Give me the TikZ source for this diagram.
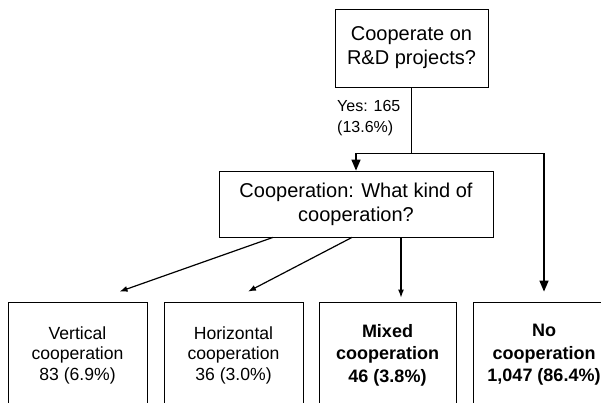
\documentclass[tikz,border=0pt]{standalone}
\usepackage{fontspec}
\setmainfont{Liberation Sans}
\usetikzlibrary{arrows.meta}

\begin{document}
\begin{tikzpicture}[x=1pt,y=-1pt,box/.style={shape=rectangle,draw=black,line width=0.8pt,align=center,inner sep=0pt},question/.style={box,font=\fontsize{20}{24}\selectfont},answer/.style={box,minimum width=139pt,minimum height=106pt,font=\fontsize{17.6}{20.5}\selectfont},answerB/.style={answer,font=\fontsize{18}{22.5}\selectfont\bfseries},flow/.style={line width=1.5pt,-{Triangle[width=9pt,length=11pt]}},split/.style={line width=1.2pt,-{Latex[width=6pt,length=8pt]}}]
\def\ty{355};
\def\dk{66};

\useasboundingbox (0,0) rectangle (601,403);

\node[question,minimum width=153pt,minimum height=78pt] (Q) at (411.5,48) {Cooperate on\\R\&D projects?};
\node[anchor=west,align=left,inner sep=0pt,font=\fontsize{16}{21}\selectfont] (yes) at (337,118) {Yes: 165\\(13.6\%)};
\node[question,minimum width=274pt,minimum height=66pt] (K) at (356,204) {Cooperation: What kind of\\cooperation?};

\node[answer] (V) at (77.5,\ty) {Vertical\\cooperation\\83 (6.9\%)};
\node[answer] (H) at (233.5,\ty) {Horizontal\\cooperation\\36 (3.0\%)};
\node[answerB,minimum width=137pt] (M) at (387.5,\ty) {Mixed\\cooperation\\46 (3.8\%)};
\node[answerB,minimum width=142pt] (N) at (544,\ty) {No\\cooperation\\1,047 (86.4\%)};

\coordinate (J) at ([yshift=-\dk pt]Q.south);
\draw[line width=1.5pt] (Q.south) -- (J);
\draw[flow] (J) -| (K.north);
\draw[flow,shorten >=10pt] (J) -| (N.north);

\draw[split] ([xshift=-83pt]K.south) -- ([xshift=42pt,yshift=10pt]V.north);
\draw[split] ([xshift=-4pt]K.south) -- ([xshift=14.5pt,yshift=10pt]H.north);
\draw[split] ([xshift=45pt]K.south) -- ([xshift=13.5pt,yshift=4pt]M.north);
\end{tikzpicture}
\end{document}
